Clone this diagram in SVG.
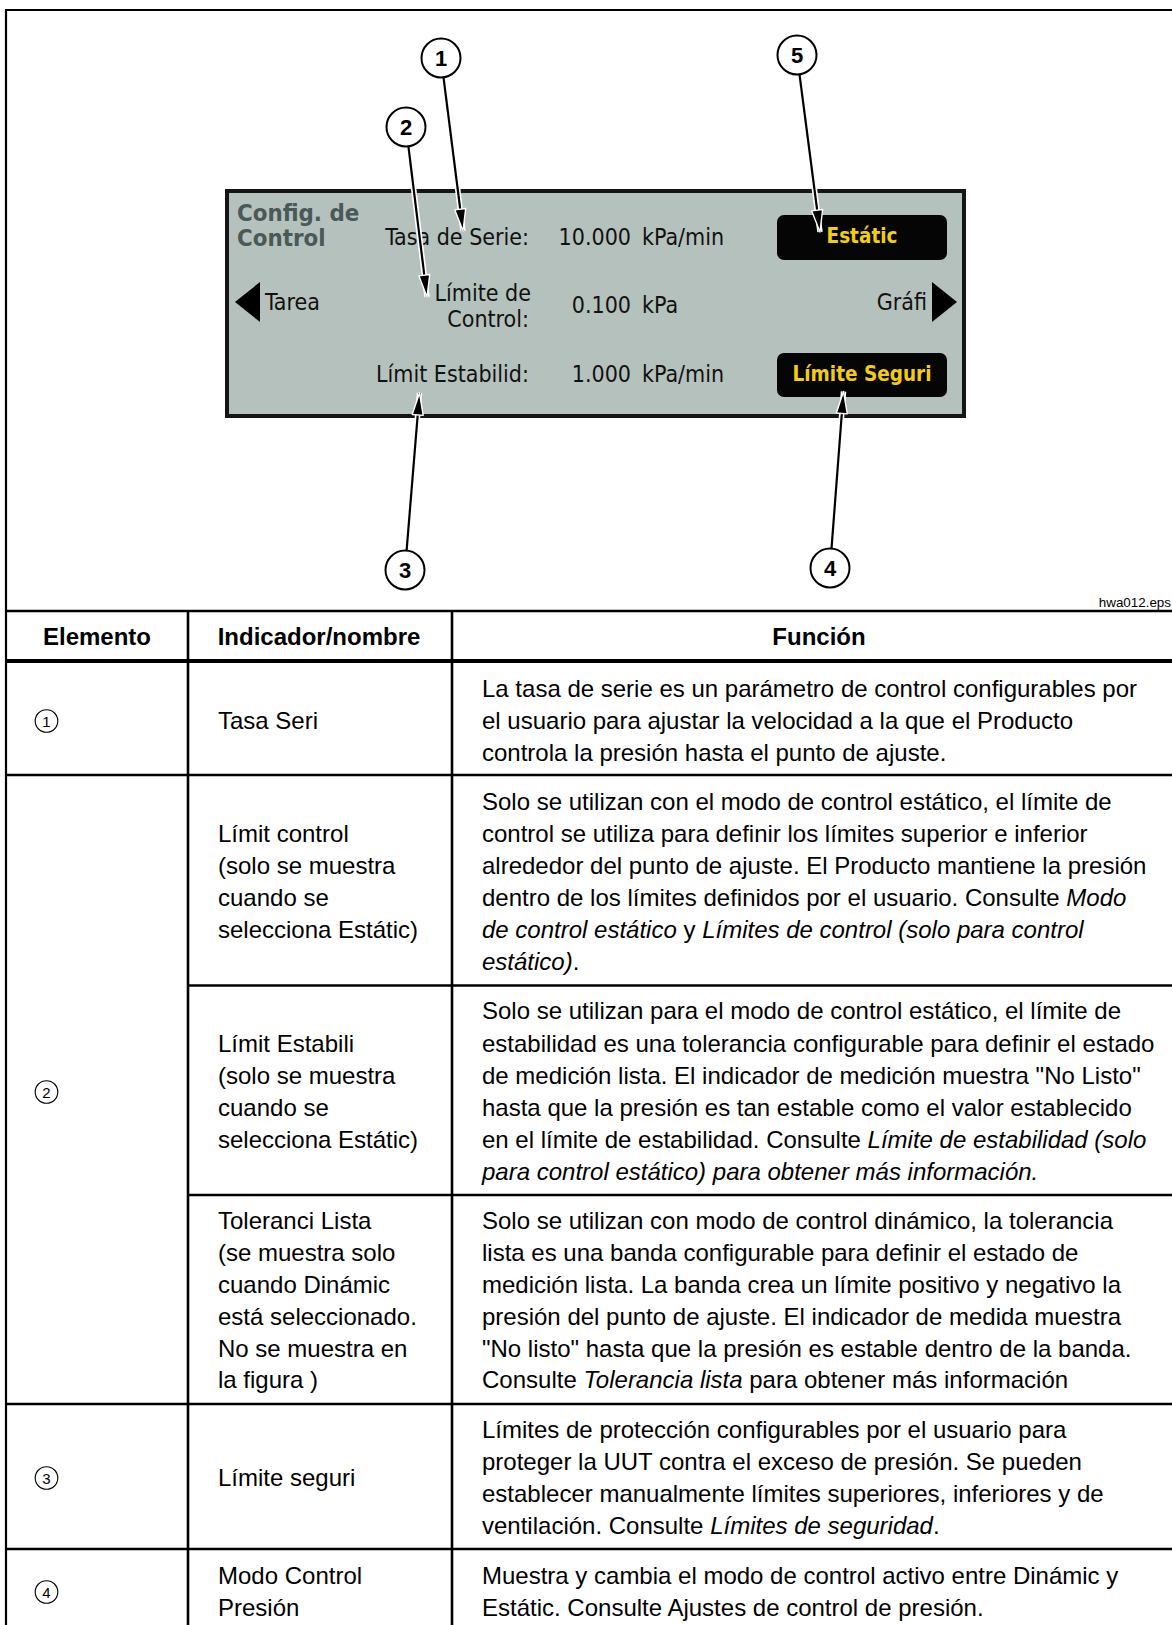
<svg xmlns="http://www.w3.org/2000/svg" width="1172" height="1625" viewBox="0 0 1172 1625">
<style>
  .frame{stroke:#000;stroke-width:2.2;fill:none}
  .rule{stroke:#000;stroke-width:2.6}
  .rule-thick{stroke:#000;stroke-width:4}
  .cell{font-family:"Liberation Sans",Arial,sans-serif;font-size:24px;fill:#000}
  .head{font-family:"Liberation Sans",Arial,sans-serif;font-size:24px;font-weight:bold;fill:#000;text-anchor:middle}
  .it{font-style:italic}
  .lcd{font-family:"DejaVu Sans Condensed","DejaVu Sans",sans-serif;font-stretch:condensed;font-size:23px;fill:#111}
  .lcd-title{font-family:"DejaVu Sans Condensed","DejaVu Sans",sans-serif;font-stretch:condensed;font-size:23.8px;font-weight:bold;fill:#4a5858}
  .end{text-anchor:end}
  .btn{fill:#050505}
  .btn-text{font-family:"DejaVu Sans Condensed","DejaVu Sans",sans-serif;font-stretch:condensed;font-size:20.5px;font-weight:bold;fill:#f2cd14;text-anchor:middle}
  .callout circle{fill:#fff;stroke:#000;stroke-width:2}
  .callout text{font-family:"Liberation Sans",Arial,sans-serif;font-size:22px;font-weight:bold;text-anchor:middle}
  .halo{stroke:#fff;stroke-width:5.5;fill:none}
  .lead{stroke:#000;stroke-width:2.2;fill:none;marker-end:url(#head)}
  .mini circle{fill:none;stroke:#000;stroke-width:1.1}
  .mini text{font-family:"Liberation Sans",Arial,sans-serif;font-size:15px;text-anchor:middle}
  .tag{font-family:"Liberation Sans",Arial,sans-serif;font-size:13.4px;text-anchor:end}
</style>
<defs>
  <marker id="head" markerUnits="userSpaceOnUse" markerWidth="32" markerHeight="20" viewBox="0 0 32 20" refX="26" refY="10" orient="auto">
    <path d="M4,4.5 L26,10 L4,15.5 Z" fill="#000" stroke="#fff" stroke-width="1.4" stroke-linejoin="round"/>
  </marker>
</defs>

<!-- outer frame -->
<g id="frame">
  <line class="frame" x1="6" y1="10" x2="1172" y2="10"/>
  <line class="frame" x1="6" y1="9" x2="6" y2="1625"/>
  <text class="tag" x="1171" y="607">hwa012.eps</text>
</g>

<!-- instrument screen -->
<g id="screen">
  <rect x="227" y="191" width="737" height="225" fill="#b5c1bc" stroke="#151515" stroke-width="4"/>
  <text class="lcd-title" x="237" y="221">Config. de</text>
  <text class="lcd-title" x="237" y="246">Control</text>

  <text class="lcd end" x="529" y="245">Tasa de Serie:</text>
  <text class="lcd end" x="631" y="245">10.000</text>
  <text class="lcd" x="642" y="245">kPa/min</text>

  <polygon points="260,282 260,322 235,302" fill="#000"/>
  <text class="lcd" x="265" y="310">Tarea</text>
  <text class="lcd end" x="531" y="301">Límite de</text>
  <text class="lcd end" x="529" y="327">Control:</text>
  <text class="lcd end" x="631" y="313">0.100</text>
  <text class="lcd" x="642" y="313">kPa</text>
  <text class="lcd end" x="927" y="310">Gráfi</text>
  <polygon points="932,282 932,322 957,302" fill="#000"/>

  <text class="lcd end" x="529" y="382">Límit Estabilid:</text>
  <text class="lcd end" x="631" y="382">1.000</text>
  <text class="lcd" x="642" y="382">kPa/min</text>
</g>

<g id="btn-static">
  <rect class="btn" x="777" y="215" width="170" height="45" rx="7"/>
  <text class="btn-text" x="862" y="243">Estátic</text>
</g>
<g id="btn-safety">
  <rect class="btn" x="777" y="353" width="170" height="44" rx="7"/>
  <text class="btn-text" x="862" y="381">Límite Seguri</text>
</g>

<!-- leader arrows -->
<g id="connectors">
  <line class="halo" x1="443.5" y1="77.3" x2="463" y2="231"/>
  <line class="lead" x1="443.5" y1="77.3" x2="463" y2="231"/>
  <line class="halo" x1="408.4" y1="146.3" x2="427" y2="297"/>
  <line class="lead" x1="408.4" y1="146.3" x2="427" y2="297"/>
  <line class="halo" x1="799.5" y1="74.3" x2="820" y2="232"/>
  <line class="lead" x1="799.5" y1="74.3" x2="820" y2="232"/>
  <line class="halo" x1="406.6" y1="550.6" x2="419.5" y2="393"/>
  <line class="lead" x1="406.6" y1="550.6" x2="419.5" y2="393"/>
  <line class="halo" x1="831.5" y1="548.6" x2="843.5" y2="391.5"/>
  <line class="lead" x1="831.5" y1="548.6" x2="843.5" y2="391.5"/>
</g>

<g id="callout-1" class="callout"><circle cx="441" cy="58" r="19.5"/><text x="441" y="66">1</text></g>
<g id="callout-2" class="callout"><circle cx="406" cy="127" r="19.5"/><text x="406" y="135">2</text></g>
<g id="callout-3" class="callout"><circle cx="405" cy="570" r="19.5"/><text x="405" y="578">3</text></g>
<g id="callout-4" class="callout"><circle cx="830" cy="568" r="19.5"/><text x="830" y="576">4</text></g>
<g id="callout-5" class="callout"><circle cx="797" cy="55" r="19.5"/><text x="797" y="63">5</text></g>

<!-- table grid -->
<g id="table-grid">
  <line class="rule" x1="5" y1="611" x2="1172" y2="611"/>
  <line class="rule-thick" x1="5" y1="661" x2="1172" y2="661"/>
  <line class="rule" x1="5" y1="775" x2="1172" y2="775"/>
  <line class="rule" x1="188" y1="985.5" x2="1172" y2="985.5"/>
  <line class="rule" x1="188" y1="1195" x2="1172" y2="1195"/>
  <line class="rule" x1="5" y1="1404" x2="1172" y2="1404"/>
  <line class="rule" x1="5" y1="1549" x2="1172" y2="1549"/>
  <line class="rule" x1="188" y1="611" x2="188" y2="1625"/>
  <line class="rule" x1="452" y1="611" x2="452" y2="1625"/>
</g>

<g id="table-head">
  <text class="head" x="97" y="645">Elemento</text>
  <text class="head" x="319" y="645">Indicador/nombre</text>
  <text class="head" x="819" y="645">Función</text>
</g>

<g id="row-1">
  <g class="mini"><circle cx="46.5" cy="721" r="11.3"/><text x="46.5" y="726.5">1</text></g>
  <text class="cell" x="218" y="729">Tasa Seri</text>
  <text class="cell" x="482" y="697">La tasa de serie es un parámetro de control configurables por</text>
  <text class="cell" x="482" y="729">el usuario para ajustar la velocidad a la que el Producto</text>
  <text class="cell" x="482" y="761">controla la presión hasta el punto de ajuste.</text>
</g>

<g id="row-2">
  <g class="mini"><circle cx="46.5" cy="1092" r="11.3"/><text x="46.5" y="1097.5">2</text></g>

  <text class="cell" x="218" y="842">Límit control</text>
  <text class="cell" x="218" y="874">(solo se muestra</text>
  <text class="cell" x="218" y="906">cuando se</text>
  <text class="cell" x="218" y="938">selecciona Estátic)</text>
  <text class="cell" x="482" y="810">Solo se utilizan con el modo de control estático, el límite de</text>
  <text class="cell" x="482" y="842">control se utiliza para definir los límites superior e inferior</text>
  <text class="cell" x="482" y="874">alrededor del punto de ajuste. El Producto mantiene la presión</text>
  <text class="cell" x="482" y="906">dentro de los límites definidos por el usuario. Consulte <tspan class="it">Modo</tspan></text>
  <text class="cell" x="482" y="938"><tspan class="it">de control estático</tspan> y <tspan class="it">Límites de control (solo para control</tspan></text>
  <text class="cell" x="482" y="970"><tspan class="it">estático)</tspan>.</text>

  <text class="cell" x="218" y="1052">Límit Estabili</text>
  <text class="cell" x="218" y="1084">(solo se muestra</text>
  <text class="cell" x="218" y="1116">cuando se</text>
  <text class="cell" x="218" y="1148">selecciona Estátic)</text>
  <text class="cell" x="482" y="1019">Solo se utilizan para el modo de control estático, el límite de</text>
  <text class="cell" x="482" y="1052">estabilidad es una tolerancia configurable para definir el estado</text>
  <text class="cell" x="482" y="1084">de medición lista. El indicador de medición muestra "No Listo"</text>
  <text class="cell" x="482" y="1116">hasta que la presión es tan estable como el valor establecido</text>
  <text class="cell" x="482" y="1148">en el límite de estabilidad. Consulte <tspan class="it">Límite de estabilidad (solo</tspan></text>
  <text class="cell" x="482" y="1180"><tspan class="it">para control estático) para obtener más información.</tspan></text>

  <text class="cell" x="218" y="1229">Toleranci Lista</text>
  <text class="cell" x="218" y="1261">(se muestra solo</text>
  <text class="cell" x="218" y="1293">cuando Dinámic</text>
  <text class="cell" x="218" y="1325">está seleccionado.</text>
  <text class="cell" x="218" y="1357">No se muestra en</text>
  <text class="cell" x="218" y="1388">la figura )</text>
  <text class="cell" x="482" y="1229">Solo se utilizan con modo de control dinámico, la tolerancia</text>
  <text class="cell" x="482" y="1261">lista es una banda configurable para definir el estado de</text>
  <text class="cell" x="482" y="1293">medición lista. La banda crea un límite positivo y negativo la</text>
  <text class="cell" x="482" y="1325">presión del punto de ajuste. El indicador de medida muestra</text>
  <text class="cell" x="482" y="1357">"No listo" hasta que la presión es estable dentro de la banda.</text>
  <text class="cell" x="482" y="1388">Consulte <tspan class="it">Tolerancia lista</tspan> para obtener más información</text>
</g>

<g id="row-3">
  <g class="mini"><circle cx="46.5" cy="1478" r="11.3"/><text x="46.5" y="1483.5">3</text></g>
  <text class="cell" x="218" y="1486">Límite seguri</text>
  <text class="cell" x="482" y="1438">Límites de protección configurables por el usuario para</text>
  <text class="cell" x="482" y="1470">proteger la UUT contra el exceso de presión. Se pueden</text>
  <text class="cell" x="482" y="1502">establecer manualmente límites superiores, inferiores y de</text>
  <text class="cell" x="482" y="1534">ventilación. Consulte <tspan class="it">Límites de seguridad</tspan>.</text>
</g>

<g id="row-4">
  <g class="mini"><circle cx="46.5" cy="1592" r="11.3"/><text x="46.5" y="1597.5">4</text></g>
  <text class="cell" x="218" y="1584">Modo Control</text>
  <text class="cell" x="218" y="1616">Presión</text>
  <text class="cell" x="482" y="1584">Muestra y cambia el modo de control activo entre Dinámic y</text>
  <text class="cell" x="482" y="1616">Estátic. Consulte Ajustes de control de presión.</text>
</g>
</svg>
